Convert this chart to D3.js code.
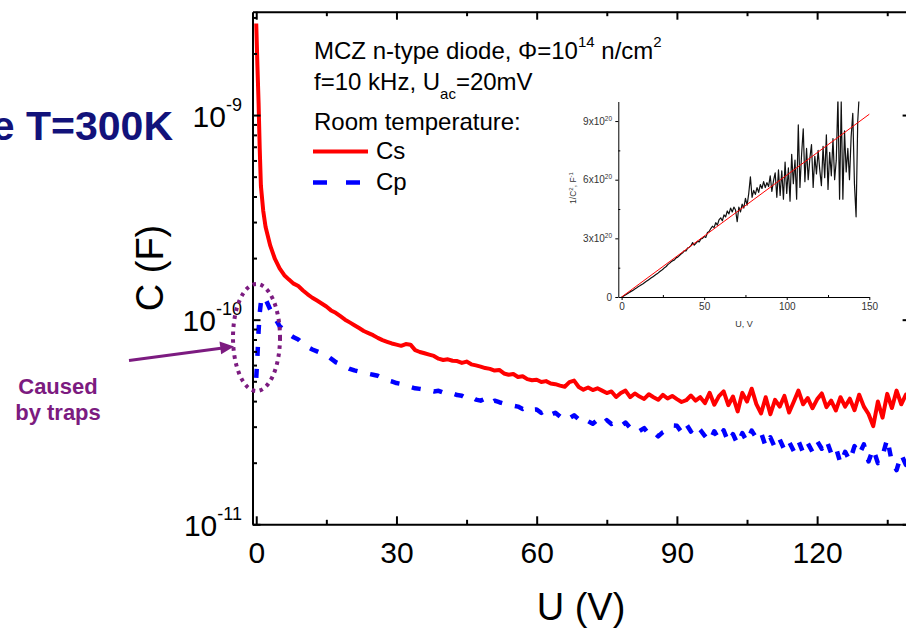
<!DOCTYPE html>
<html>
<head>
<meta charset="utf-8">
<script src="https://cdn.jsdelivr.net/npm/d3@7"></script>
<style>
  html, body { margin: 0; padding: 0; background: #fff; }
  svg { display: block; font-family: "Liberation Sans", Arial, Helvetica, sans-serif; }
</style>
</head>
<body>
<svg id="chart" width="906" height="630"></svg>
<script>
// Bias voltage U (V) for the C-V sweep
const voltage = [0,0.25,0.5,0.75,1,1.5,2,3,4,5,6,7,8,9,10,11,12,13,14,15,16,17,18,19,20,
  21,22,23,24,25,26,27,28,29,30,31,32,33,34,35,36,37,38,39,40,41,42,43,44,45,46,47,48,49,50,
  51,52,53,54,55,56,57,58,59,60,61,62,63,64,65,66,67,68,69,70,71,72,73,74,75,76,77,78,79,80,
  81,82,83,84,85,86,87,88,89,90,91,92,93,94,95,96,97,98,99,100,101,102,103,104,105,106,107,108,109,110,
  111,112,113,114,115,116,117,118,119,120,121,122,123,124,125,126,127,128,129,130,131,132,133,134,135,136,137,138,139,140];

// Series capacitance Cs (pF)
const csPF = [2800,1750,1150,680,450,340,284,230,198,178,165,157,150,146,139,133,128,124,120,116,111,108,104,100,97,
  94,91,88,86,84,81.5,79.5,78,76.5,75.5,74.5,76,75.5,71,69.5,68.5,67.5,66.5,64.5,63.5,64,63,62.8,61.5,62.4,60.5,59.8,59,58,57.5,
  56.4,56.8,54.6,53.8,54.3,52.5,52.9,51.2,50.6,50.9,49.6,50.1,48.8,48.4,47.6,47,49.5,50.4,46.9,45.5,46.6,45.3,46.2,45,43.8,44.6,41.9,43.8,45,41.8,
  43.6,42.1,41,43.2,41.8,40.6,42.9,41.2,42.4,40.9,39.6,40.4,42.6,40.2,41.8,39.1,43.9,38.4,42.3,44.6,38.2,42.1,35.6,43.9,39.8,46,38.7,34.8,41.8,34.5,
  40.6,37.6,42.4,35.2,39.7,45,38.6,41.4,36.9,40.8,43.6,37.4,40.2,36,41.8,37.6,41.1,36.1,43,37.6,34.6,30.2,39.8,33.2,43.4,37,45,38.6,43,40];

// Parallel capacitance Cp (pF)
const cpPF = [52,66,88,108,122,130,126,112,102,93,89,85,82,80,76,73.5,71.5,70,68.5,67,64.5,62,60.5,59,57.5,
  56.5,55.8,55,54.4,53.8,53.2,51.8,50.6,49.9,49,48.5,47.4,46.9,46.2,45.9,45.5,45.2,44.6,44.9,44,43.2,43.6,42.8,42.5,41.3,42,40.7,40.2,41.1,39,
  40.2,39.5,38.9,38.4,38,37.6,36.6,37.5,36.3,36.4,35.0,36.2,34.3,35.1,33.6,34.5,33.0,34.1,32.6,33.5,31.9,31.0,32.4,30.8,32.3,30.9,31.6,30.2,31.4,29.6,
  30.2,28.6,29.5,27.6,28.3,26.9,28.2,28.9,30.4,30.3,28.2,30.9,28.4,30.6,28.9,27.0,25.4,28.5,26.0,28.8,25.2,27.6,24.6,27.9,25.3,28.7,26.4,28.1,24.0,26.6,
  23.6,26.0,23.1,25.3,22.8,25.6,22.4,24.9,22.6,25.5,23.4,25.8,22.3,23.9,19.8,22.6,20.4,24.1,21.9,24.6,20.3,23.4,19.9,21.6,26.2,20.1,18.4,22.0,19.5,21.3];

// Inset: 1/C^2 (units of 1e20 F^-2) versus U (V)
const insetU = [0,1,2,3,4,5,6,7,8,9,10,11,12,13,14,15,16,17,18,19,20,21,22,23,24,25,26,27,28,29,
  30,31,32,33,34,35,36,37,38,39,40,41,42,43,44,45,46,47,48,49,50,51,52,53,54,55,56,57,58,59,
  60,61,62,63,64,65,66,67,68,69,70,71,72,73,74,75,76,77,78,79,80,81,82,83,84,85,86,87,88,89,
  90,91,92,93,94,95,96,97,98,99,100,101,102,103,104,105,106,107,108,109,110,111,112,113,114,115,116,117,118,119,
  120,121,122,123,124,125,126,127,128,129,130,131,132,133,134,135,136,137,138,139,140,141,142,143,144,145];
const insetInvC2 = [0,0.04,0.09,0.14,0.19,0.25,0.3,0.35,0.41,0.46,
  0.52,0.57,0.63,0.68,0.74,0.8,0.86,0.92,0.98,1.04,
  1.1,1.16,1.22,1.29,1.35,1.42,1.5,1.56,1.66,1.72,
  1.8,1.86,1.9,2.0,2.04,2.12,2.2,2.26,2.37,2.36,
  2.5,2.55,2.62,2.78,2.65,2.74,2.85,2.82,2.97,3.0,
  3.1,3.05,3.3,3.35,3.5,3.62,3.55,3.8,3.68,3.95,
  4.05,3.9,4.2,4.1,4.4,4.25,4.55,4.35,4.6,4.45,
  3.85,4.6,4.35,4.75,4.55,5.05,4.7,5.3,6.15,5.1,
  5.45,5.25,5.6,5.35,5.75,5.55,5.9,5.6,5.85,5.65,
  6.2,5.4,5.95,6.35,5.1,6.5,5.2,6.45,5.0,6.9,
  5.3,6.6,4.9,7.3,5.8,7.0,5.0,8.8,5.6,7.3,
  8.6,5.9,7.6,6.0,7.1,7.8,5.6,7.2,6.3,7.5,
  6.5,5.7,7.7,6.1,8.3,5.5,7.4,6.2,8.1,6.0,
  7.0,10.2,5.0,10.0,5.0,8.5,6.4,7.6,6.0,8.2,
  9.4,5.8,4.1,9.0,10.5,10.5];
// Linear fit of the inset data
const fitU = [0, 150];
const fitInvC2 = [0, 9.35];

// Tick values and labels
const xMajorTicks = [0, 30, 60, 90, 120];
const xMinorTicks = [15, 45, 75, 105, 135];
const yMajorTicks = [1e-11, 1e-10, 1e-9];
const yMajorExponents = ["-11", "-10", "-9"];
const insetXTicks = [0, 50, 100, 150];
const insetXMinor = [25, 75, 125];
const insetYTicks = [0, 3, 6, 9];
const insetYMinor = [1.5, 4.5, 7.5];
const insetYMantissa = ["0", "3x10", "6x10", "9x10"];

const svg = d3.select("#chart");

// ---------- main plot ----------
const pLeft = 252.5, pRight = 910.6, pTop = 11.7, pBottom = 524.3;
const x = d3.scaleLinear().domain([-0.8, 140]).range([pLeft, pRight]);
const y = d3.scaleLog().domain([1e-11, 3.2e-9]).range([pBottom, pTop]);

const yMinorTicks = [];
[-11, -10, -9].forEach(e => {
  for (let k = 2; k <= 9; k++) {
    const v = k * Math.pow(10, e);
    if (v <= 3.2e-9) yMinorTicks.push(v);
  }
});

function thick(g, w) {
  g.select(".domain").attr("stroke", "#000").attr("stroke-width", w);
  g.selectAll(".tick line").attr("stroke", "#000").attr("stroke-width", w);
}

svg.append("clipPath").attr("id", "plotClip")
  .append("rect").attr("x", pLeft).attr("y", pTop).attr("width", pRight - pLeft).attr("height", pBottom - pTop);

// data
const csData = voltage.map((u, i) => ({ u, c: csPF[i] * 1e-12 }));
const cpData = voltage.map((u, i) => ({ u, c: cpPF[i] * 1e-12 }));
const line = d3.line().x(d => x(d.u)).y(d => y(d.c));

const plot = svg.append("g").attr("clip-path", "url(#plotClip)");
plot.append("path").datum(cpData).attr("d", line)
  .attr("fill", "none").attr("stroke", "#0000ff").attr("stroke-width", 4.5)
  .attr("stroke-dasharray", "9,13").attr("stroke-linejoin", "round");
plot.append("path").datum(csData).attr("d", line)
  .attr("fill", "none").attr("stroke", "#ff0000").attr("stroke-width", 4)
  .attr("stroke-linejoin", "round");

// axes (frame)
svg.append("g").attr("transform", `translate(0,${pBottom})`)
  .call(d3.axisBottom(x).tickValues(xMajorTicks).tickSize(-8).tickSizeOuter(0).tickPadding(17).tickFormat(d3.format("d")))
  .call(g => thick(g, 2))
  .call(g => g.selectAll("text").attr("font-size", 30).attr("fill", "#000")
    .attr("font-family", "'Liberation Sans', Arial, sans-serif"));
svg.append("g").attr("transform", `translate(0,${pBottom})`)
  .call(d3.axisBottom(x).tickValues(xMinorTicks).tickSize(-4.5).tickSizeOuter(0).tickFormat(""))
  .call(g => { g.select(".domain").remove(); thick(g, 2); });

svg.append("g").attr("transform", `translate(0,${pTop})`)
  .call(d3.axisTop(x).tickValues(xMajorTicks).tickSize(-8).tickSizeOuter(0).tickFormat(""))
  .call(g => thick(g, 2));
svg.append("g").attr("transform", `translate(0,${pTop})`)
  .call(d3.axisTop(x).tickValues(xMinorTicks).tickSize(-4.5).tickSizeOuter(0).tickFormat(""))
  .call(g => { g.select(".domain").remove(); thick(g, 2); });

svg.append("g").attr("transform", `translate(${pLeft},0)`)
  .call(d3.axisLeft(y).tickValues(yMajorTicks).tickSize(-8).tickSizeOuter(0).tickFormat(""))
  .call(g => thick(g, 2));
svg.append("g").attr("transform", `translate(${pLeft},0)`)
  .call(d3.axisLeft(y).tickValues(yMinorTicks).tickSize(-4.5).tickSizeOuter(0).tickFormat(""))
  .call(g => { g.select(".domain").remove(); thick(g, 2); });

svg.append("g").attr("transform", `translate(${pRight},0)`)
  .call(d3.axisRight(y).tickValues(yMajorTicks).tickSize(-8).tickSizeOuter(0).tickFormat(""))
  .call(g => thick(g, 2));
svg.append("g").attr("transform", `translate(${pRight},0)`)
  .call(d3.axisRight(y).tickValues(yMinorTicks).tickSize(-4.5).tickSizeOuter(0).tickFormat(""))
  .call(g => { g.select(".domain").remove(); thick(g, 2); });

// y tick labels 10^n
yMajorTicks.forEach((v, i) => {
  const t = svg.append("text").attr("x", 242).attr("y", y(v) + 11.5)
    .attr("text-anchor", "end").attr("font-size", 30).attr("fill", "#000");
  t.append("tspan").text("10");
  t.append("tspan").attr("dy", -16).attr("font-size", 18).text(yMajorExponents[i]);
});

// axis titles
svg.append("text").attr("transform", "translate(163,268) rotate(-90)")
  .attr("text-anchor", "middle").attr("font-size", 38).attr("fill", "#000").text("C (F)");
svg.append("text").attr("x", 581).attr("y", 620)
  .attr("text-anchor", "middle").attr("font-size", 38).attr("fill", "#000").text("U (V)");

// heading fragment
svg.append("text").attr("x", 173).attr("y", 140).attr("text-anchor", "end")
  .attr("font-size", 41).attr("font-weight", "bold").attr("fill", "#12127a").text("e T=300K");

// legend block
const lg = svg.append("g").attr("font-size", 24).attr("fill", "#000");
const l1 = lg.append("text").attr("x", 314).attr("y", 59);
l1.append("tspan").text("MCZ n-type diode, \u03A6=10");
l1.append("tspan").attr("dy", -12).attr("font-size", 15).text("14");
l1.append("tspan").attr("dy", 12).text(" n/cm");
l1.append("tspan").attr("dy", -12).attr("font-size", 15).text("2");
const l2 = lg.append("text").attr("x", 314).attr("y", 90);
l2.append("tspan").text("f=10 kHz, U");
l2.append("tspan").attr("dy", 9).attr("font-size", 15).text("ac");
l2.append("tspan").attr("dy", -9).text("=20mV");
lg.append("text").attr("x", 314).attr("y", 130).text("Room temperature:");
lg.append("line").attr("x1", 313).attr("x2", 368).attr("y1", 151.5).attr("y2", 151.5)
  .attr("stroke", "#ff0000").attr("stroke-width", 4);
lg.append("text").attr("x", 376).attr("y", 159).text("Cs");
lg.append("line").attr("x1", 313).attr("x2", 362).attr("y1", 182.5).attr("y2", 182.5)
  .attr("stroke", "#0000ff").attr("stroke-width", 4.5).attr("stroke-dasharray", "14,19");
lg.append("text").attr("x", 376).attr("y", 190).text("Cp");

// trap annotation
const purple = "#7c1b80";
svg.append("ellipse").attr("cx", 256.5).attr("cy", 337.5).attr("rx", 23.5).attr("ry", 53.5)
  .attr("fill", "none").attr("stroke", purple).attr("stroke-width", 4).attr("stroke-dasharray", "3.5,4.5");
svg.append("line").attr("x1", 129).attr("y1", 360.5).attr("x2", 221).attr("y2", 348.3)
  .attr("stroke", purple).attr("stroke-width", 3);
svg.append("path").attr("d", "M234,346.5 L219.5,341.6 L221.2,354.2 Z").attr("fill", purple);
svg.append("text").attr("x", 58).attr("y", 394).attr("text-anchor", "middle")
  .attr("font-size", 22).attr("font-weight", "bold").attr("fill", purple).text("Caused");
svg.append("text").attr("x", 58).attr("y", 420).attr("text-anchor", "middle")
  .attr("font-size", 22).attr("font-weight", "bold").attr("fill", purple).text("by traps");

// ---------- inset: 1/C^2 vs U ----------
const iL = 618.3, iR = 869.3, iT = 101.5, iB = 297;
const xi = d3.scaleLinear().domain([-2, 150]).range([iL, iR]);
const yi = d3.scaleLinear().domain([0, 10]).range([iB, iT]);

svg.append("clipPath").attr("id", "insetClip")
  .append("rect").attr("x", iL).attr("y", iT).attr("width", iR - iL + 4).attr("height", iB - iT);

const inset = svg.append("g");
const insetData = insetU.map((u, i) => ({ u, v: insetInvC2[i] }));
const fitData = fitU.map((u, i) => ({ u, v: fitInvC2[i] }));
const iline = d3.line().x(d => xi(d.u)).y(d => yi(d.v));
const ip = inset.append("g").attr("clip-path", "url(#insetClip)");
ip.append("path").datum(insetData).attr("d", iline)
  .attr("fill", "none").attr("stroke", "#111").attr("stroke-width", 1.2).attr("stroke-linejoin", "round");
ip.append("path").datum(fitData).attr("d", iline)
  .attr("fill", "none").attr("stroke", "#ff0000").attr("stroke-width", 1);

inset.append("g").attr("transform", `translate(0,${iB})`)
  .call(d3.axisBottom(xi).tickValues(insetXTicks).tickSize(3).tickSizeOuter(0).tickPadding(3).tickFormat(d3.format("d")))
  .call(g => thick(g, 1))
  .call(g => g.selectAll("text").attr("font-size", 10).attr("fill", "#333")
    .attr("font-family", "'Liberation Sans', Arial, sans-serif"));
inset.append("g").attr("transform", `translate(0,${iB})`)
  .call(d3.axisBottom(xi).tickValues(insetXMinor).tickSize(-2).tickSizeOuter(0).tickFormat(""))
  .call(g => { g.select(".domain").remove(); thick(g, 1); });
inset.append("g").attr("transform", `translate(${iL},0)`)
  .call(d3.axisLeft(yi).tickValues(insetYTicks).tickSize(3).tickSizeOuter(0).tickFormat(""))
  .call(g => thick(g, 1));
inset.append("g").attr("transform", `translate(${iL},0)`)
  .call(d3.axisLeft(yi).tickValues(insetYMinor).tickSize(-2).tickSizeOuter(0).tickFormat(""))
  .call(g => { g.select(".domain").remove(); thick(g, 1); });

insetYTicks.forEach((v, i) => {
  const t = inset.append("text").attr("x", 612).attr("y", yi(v) + 3.6)
    .attr("text-anchor", "end").attr("font-size", 10).attr("fill", "#333");
  t.append("tspan").text(insetYMantissa[i]);
  if (v !== 0) t.append("tspan").attr("dy", -4).attr("font-size", 6.5).text("20");
});
inset.append("text").attr("x", 744).attr("y", 327).attr("text-anchor", "middle")
  .attr("font-size", 9).attr("fill", "#333").text("U, V");
const iyt = inset.append("text").attr("transform", "translate(576,188) rotate(-90)")
  .attr("text-anchor", "middle").attr("font-size", 8.5).attr("fill", "#333");
iyt.append("tspan").text("1/C");
iyt.append("tspan").attr("dy", -3).attr("font-size", 6).text("2");
iyt.append("tspan").attr("dy", 3).text(", F");
iyt.append("tspan").attr("dy", -3).attr("font-size", 6).text("-1");
</script>
</body>
</html>
